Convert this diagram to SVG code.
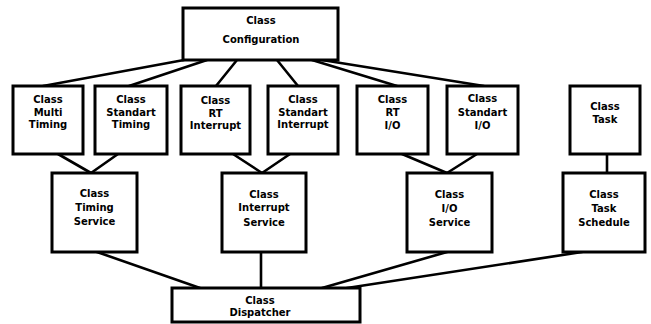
<svg xmlns="http://www.w3.org/2000/svg" width="651" height="324" viewBox="0 0 651 324">
<style>
.box{fill:#fff;stroke:#000;stroke-width:3}
.t{font-family:"DejaVu Sans",sans-serif;font-weight:bold;font-size:10px;text-anchor:middle;fill:#000}
.c{stroke:#000;stroke-width:2.6;fill:none;stroke-linecap:round}
</style>
<rect width="651" height="324" fill="#fff"/>
<g id="connectors">
<line class="c" x1="184" y1="60" x2="43" y2="86"/>
<line class="c" x1="207" y1="60" x2="129" y2="86"/>
<line class="c" x1="237" y1="60" x2="216" y2="86"/>
<line class="c" x1="277" y1="60" x2="298" y2="86"/>
<line class="c" x1="312" y1="60" x2="397" y2="86"/>
<line class="c" x1="322" y1="60" x2="484" y2="86"/>
<line class="c" x1="58" y1="154" x2="91" y2="173"/>
<line class="c" x1="118" y1="154" x2="91" y2="173"/>
<line class="c" x1="233" y1="154" x2="262" y2="173"/>
<line class="c" x1="290" y1="154" x2="262" y2="173"/>
<line class="c" x1="402" y1="154" x2="447" y2="173"/>
<line class="c" x1="477" y1="154" x2="447" y2="173"/>
<line class="c" x1="607" y1="154" x2="607" y2="173"/>
<line class="c" x1="97" y1="252" x2="200" y2="288"/>
<line class="c" x1="261" y1="252" x2="261" y2="288"/>
<line class="c" x1="447" y1="252" x2="322" y2="288"/>
<line class="c" x1="582" y1="252" x2="347" y2="288"/>
</g>
<g id="configuration">
<rect class="box" x="183" y="8" width="155" height="52"/>
<text class="t" x="261" y="23.5">Class</text>
<text class="t" x="261" y="42.5">Configuration</text>
</g>
<g id="multiTiming">
<rect class="box" x="13" y="86" width="70" height="68"/>
<text class="t" x="48" y="103">Class</text>
<text class="t" x="48" y="115.5">Multi</text>
<text class="t" x="48" y="128">Timing</text>
</g>
<g id="standartTiming">
<rect class="box" x="95" y="86" width="72" height="68"/>
<text class="t" x="131" y="103">Class</text>
<text class="t" x="131" y="115.5">Standart</text>
<text class="t" x="131" y="128">Timing</text>
</g>
<g id="rtInterrupt">
<rect class="box" x="181" y="86" width="69" height="68"/>
<text class="t" x="215.5" y="104">Class</text>
<text class="t" x="215.5" y="116.5">RT</text>
<text class="t" x="215.5" y="129">Interrupt</text>
</g>
<g id="standartInterrupt">
<rect class="box" x="268" y="86" width="70" height="68"/>
<text class="t" x="303" y="103">Class</text>
<text class="t" x="303" y="115.5">Standart</text>
<text class="t" x="303" y="128">Interrupt</text>
</g>
<g id="rtIO">
<rect class="box" x="357" y="86" width="71" height="68"/>
<text class="t" x="392.5" y="103">Class</text>
<text class="t" x="392.5" y="115.5">RT</text>
<text class="t" x="392.5" y="129">I/O</text>
</g>
<g id="standartIO">
<rect class="box" x="447" y="86" width="71" height="68"/>
<text class="t" x="482.5" y="102">Class</text>
<text class="t" x="482.5" y="115.5">Standart</text>
<text class="t" x="482.5" y="128.5">I/O</text>
</g>
<g id="task">
<rect class="box" x="570" y="86" width="70" height="68"/>
<text class="t" x="605" y="109.5">Class</text>
<text class="t" x="605" y="123">Task</text>
</g>
<g id="timingService">
<rect class="box" x="52" y="173" width="85" height="79"/>
<text class="t" x="94.5" y="197">Class</text>
<text class="t" x="94.5" y="211">Timing</text>
<text class="t" x="94.5" y="225">Service</text>
</g>
<g id="interruptService">
<rect class="box" x="222" y="173" width="84" height="79"/>
<text class="t" x="264" y="197.5">Class</text>
<text class="t" x="264" y="211">Interrupt</text>
<text class="t" x="264" y="225.5">Service</text>
</g>
<g id="ioService">
<rect class="box" x="407" y="173" width="85" height="79"/>
<text class="t" x="449.5" y="197.5">Class</text>
<text class="t" x="449.5" y="211.5">I/O</text>
<text class="t" x="449.5" y="225.5">Service</text>
</g>
<g id="taskSchedule">
<rect class="box" x="563" y="173" width="82" height="79"/>
<text class="t" x="604" y="197.5">Class</text>
<text class="t" x="604" y="211.5">Task</text>
<text class="t" x="604" y="225.5">Schedule</text>
</g>
<g id="dispatcher">
<rect class="box" x="172" y="288" width="188" height="34"/>
<text class="t" x="260" y="303.5">Class</text>
<text class="t" x="260" y="316">Dispatcher</text>
</g>
</svg>
